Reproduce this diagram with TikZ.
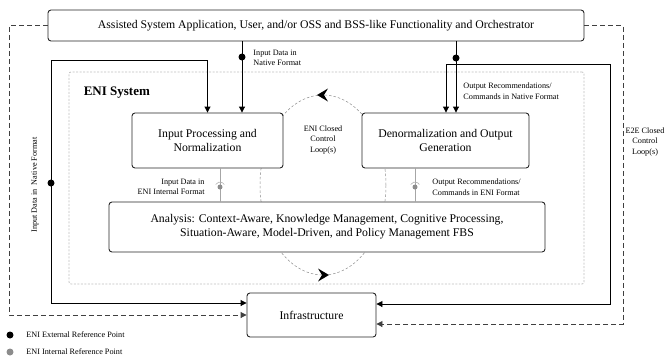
\documentclass[tikz,border=0pt]{standalone}
\usepackage{fontspec}
\setmainfont{Liberation Serif}
\usetikzlibrary{positioning}
\usetikzlibrary{arrows.meta}

\begin{document}
\begin{tikzpicture}[x=1pt,y=-1pt,>={Triangle[length=6pt,width=6pt]},line width=0.9pt,
                main box/.style={draw=black!85,fill=white,rounded corners=3pt,align=center,font=\fontsize{11.75}{14}\selectfont},
                small text/.style={align=left,inner sep=0pt,font=\fontsize{8.2}{10.5}\selectfont},
                ext line/.style={draw=black!75,dash pattern=on 5pt off 3pt},
                int line/.style={draw=black!35,line width=0.7pt},
                ext dot/.style={circle,fill=black,inner sep=0pt,minimum size=7pt},
                int dot/.style={circle,fill=black!45,inner sep=0pt,minimum size=5pt},
                loop line/.style={draw=black!45,line width=0.5pt,dash pattern=on 2.5pt off 2pt}]

  \useasboundingbox (0,0) rectangle (665,360);

  % ENI system frame and inner loop
  \node[draw=black!25,dash pattern=on 2pt off 1.5pt,rounded corners=2pt,line width=0.8pt,
        minimum width=515pt,minimum height=212pt] (eni) at (326.5,178) {};
  \node[anchor=west,font=\fontsize{13}{15}\selectfont\bfseries] (title) at (80,93) {ENI System};
  \draw[loop line] (323,185) ellipse [x radius=63pt,y radius=90pt];
  \coordinate (c1) at (323,95);
  \coordinate (c2) at (323,275);
  \fill[black] ([xshift=-6pt]c1) -- ++(11,-6.5) -- ++(-4,6.5) -- ++(4,6.5) -- cycle;
  \fill[black] ([xshift=6pt]c2) -- ++(-11,-6.5) -- ++(4,6.5) -- ++(-4,6.5) -- cycle;

  \node[main box,minimum width=536pt,minimum height=31pt] (app) at (316,25.5)
    {Assisted System Application, User, and/or OSS and BSS-like Functionality and Orchestrator};
  \node[main box,minimum width=151pt,minimum height=55pt] (in) at (207.5,140.5)
    {Input Processing and\\Normalization};
  \node[main box,minimum width=167pt,minimum height=55pt] (out) at (445.5,140.5)
    {Denormalization and Output\\Generation};
  \node[main box,minimum width=436pt,minimum height=50pt] (ana) at (327,227)
    {Analysis: Context-Aware, Knowledge Management, Cognitive Processing,\\
     Situation-Aware, Model-Driven, and Policy Management FBS};
  \node[main box,minimum width=129pt,minimum height=44pt] (infra) at (311.5,315) {Infrastructure};

  % labels
  \node[small text,anchor=west] (l1) at (253,58) {Input Data in\\Native Format};
  \node[small text,anchor=west] (l2) at (463,91) {Output Recommendations/\\Commands in Native Format};
  \node[small text,anchor=east,align=right] (l3) at (205,187) {Input Data in\\ENI Internal Format};
  \node[small text,anchor=west] (l4) at (432,187) {Output Recommendations/\\Commands in ENI Format};
  \node[small text,align=center] (l5) at (323,140) {ENI Closed\\Control\\Loop(s)};
  \node[small text,align=center] (l6) at (645,142) {E2E Closed\\Control\\Loop(s)};
  \node[small text,rotate=90] (l7) at (35,185) {Input Data in\ \ Native Format};

  % external connectors
  \coordinate (a1) at (242,57);
  \coordinate (a2) at (456,58);
  \coordinate (b1) at (51,60);
  \coordinate (b2) at (51,183);
  \coordinate (b3) at (446,64);
  \coordinate (b4) at (610,64);
  \coordinate (e1) at (9,25);
  \coordinate (e2) at (623,25);

  \draw[->] (a1 |- app.south) -- (a1 |- in.north);
  \draw[->] (a2 |- app.south) -- (a2 |- out.north);
  \draw[->] (b1) -| (in.north);
  \draw[->] (b1) |- ([yshift=12pt]infra.west);
  \draw[->] (b3) -- (b3 |- out.north);
  \draw[->] (b3) -- (b4) |- ([yshift=11pt]infra.east);
  \draw[ext line,->] (app.west) -- (app.west -| e1) |- (infra.west);
  \draw[ext line,->] (app.east) -- (app.east -| e2) |- ([yshift=-9pt]infra.east);

  \node[ext dot] at (a1) {};
  \node[ext dot] at (a2) {};
  \node[ext dot] at (b2) {};

  % internal connectors
  \coordinate (i1) at (220,187);
  \coordinate (i2) at (415,187);
  \draw[int line] (i1 |- in.south) -- (i1 |- ana.north);
  \draw[int line] (i2 |- out.south) -- (i2 |- ana.north);
  \node[int dot] at (i1) {};
  \node[int dot] at (i2) {};
  \draw[black!30,line width=0.6pt] ([shift={(150:5pt)}]i1) arc[start angle=150,end angle=30,radius=5pt];
  \draw[black!30,line width=0.6pt] ([shift={(150:5pt)}]i2) arc[start angle=150,end angle=30,radius=5pt];

  % legend
  \node[ext dot] (k1) at (10,335) {};
  \node[small text,anchor=west,font=\fontsize{8.2}{10}\selectfont] (k1 text) at (26,335) {ENI External Reference Point};
  \node[int dot,minimum size=7pt] (k2) at (10,352) {};
  \node[small text,anchor=west,font=\fontsize{8.2}{10}\selectfont] (k2 text) at (26,352) {ENI Internal Reference Point};

\end{tikzpicture}
\end{document}
